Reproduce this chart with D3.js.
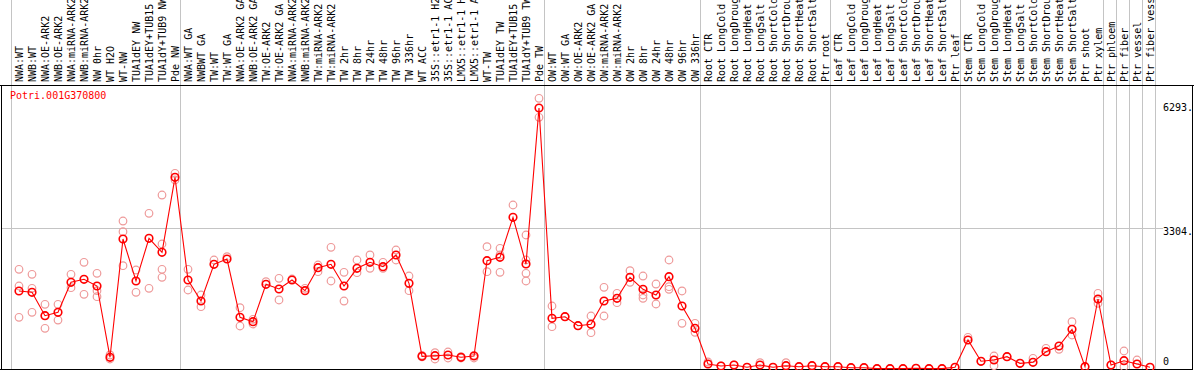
<!DOCTYPE html>
<html>
<head>
<meta charset="utf-8">
<script src="https://cdn.jsdelivr.net/npm/d3@7"></script>
<style>
  body { margin: 0; background: #fff; }
  svg { display: block; }
  text { font-family: "DejaVu Sans Mono", monospace; font-size: 10px; }
</style>
</head>
<body>
<svg id="chart" width="1194" height="370"></svg>
<script>
// THE DATA
const gene = "Potri.001G370800";

const samples = [
  "NWA:WT", "NWB:WT", "NWA:OE-ARK2", "NWB:OE-ARK2", "NWA:miRNA-ARK2", "NWB:miRNA-ARK2",
  "NW 0hr", "WT H2O", "WT-NW", "TUA1dEY NW", "TUA1dEY+TUB15", "TUA1dY+TUB9 NW", "Pde NW",
  "NWA:WT GA", "NWBWT GA", "TW:WT", "TW:WT GA", "NWA:OE-ARK2 GA", "NWB:OE-ARK2 GA",
  "TW:OE-ARK2", "TW:OE-ARK2 GA", "NWA:miRNA-ARK2", "NWB:miRNA-ARK2", "TW:miRNA-ARK2",
  "TW:miRNA-ARK2", "TW 2hr", "TW 8hr", "TW 24hr", "TW 48hr", "TW 96hr", "TW 336hr",
  "WT ACC", "35S::etr1-1 H2O", "35S::etr1-1 ACC", "LMX5::etr1-1 H2O", "LMX5::etr1-1 ACC",
  "WT-TW", "TUA1dEY TW", "TUA1dEY+TUB15", "TUA1dY+TUB9 TW", "Pde TW",
  "OW:WT", "OW:WT GA", "OW:OE-ARK2", "OW:OE-ARK2 GA", "OW:miRNA-ARK2", "OW:miRNA-ARK2",
  "OW 2hr", "OW 8hr", "OW 24hr", "OW 48hr", "OW 96hr", "OW 336hr",
  "Root CTR", "Root LongCold", "Root LongDrought", "Root LongHeat", "Root LongSalt",
  "Root ShortCold", "Root ShortDrought", "Root ShortHeat", "Root ShortSalt", "Ptr root",
  "Leaf CTR", "Leaf LongCold", "Leaf LongDrought", "Leaf LongHeat", "Leaf LongSalt",
  "Leaf ShortCold", "Leaf ShortDrought", "Leaf ShortHeat", "Leaf ShortSalt", "Ptr leaf",
  "Stem CTR", "Stem LongCold", "Stem LongDrought", "Stem LongHeat", "Stem LongSalt",
  "Stem ShortCold", "Stem ShortDrought", "Stem ShortHeat", "Stem ShortSalt", "Ptr shoot",
  "Ptr xylem", "Ptr phloem", "Ptr fiber", "Ptr vessel", "Ptr fiber vessel"
];

// index of the last sample of each group (a grey line follows it)
const groupEnds = [12, 40, 52, 62, 72, 83, 84, 85, 86, 87];

// mean expression per sample
const means = [
  1881, 1849, 1285, 1367, 2090, 2163, 2001, 282, 3134, 2122, 3151, 2814, 4622,
  2146, 1639, 2524, 2652, 1246, 1140, 2042, 1929, 2146, 1888, 2442, 2524, 2001,
  2428, 2573, 2466, 2749, 2066, 306, 321, 338, 282, 313, 2611, 2693, 3658, 2532, 6293,
  1222, 1261, 1044, 1078, 1639, 1705, 2211, 1922, 1784, 2225, 1519, 981,
  121, 72, 96, 41, 96, 41, 80, 55, 80, 55,
  55, 31, 31, 8, 8, 8, 17, 8, 8, 41,
  699, 186, 217, 297, 137, 162, 417, 555, 957, 55,
  1688, 96, 200, 121, 41
];

// replicate values per sample
const replicates = [
  [2404, 2001, 1246], [2283, 1946, 1367], [1560, 981, 1285], [1560, 1181],
  [2283, 1960], [2573, 1801], [2307, 1888, 1743], [338, 241],
  [3568, 3310, 2491], [2387, 1849], [3754, 1946], [4195, 3014, 2404, 2211],
  [4718, 4557],
  [2404, 1905], [1784, 1502], [2628], [2708], [1478, 1037], [1198, 1085],
  [2105], [2187, 1664], [2170], [1946], [2507, 2346], [2934, 2122],
  [2331, 1639], [2628, 2322], [2749, 2428], [2573, 2428], [2869, 2628],
  [2242, 1888], [330, 290], [393, 241], [410, 265], [300, 265], [265, 330],
  [2949, 2346], [2910, 2331, 2749], [3954], [3231, 2628, 2307, 2122],
  [6527, 6069],
  [1519, 1020], [1261], [1044], [1278, 875], [1970, 1278], [1825, 1598],
  [2370, 2090], [2242, 1784, 1705], [2049, 1567], [2628, 1984, 1922],
  [1881, 1102], [1102, 885],
  [169], [72], [96], [41], [152], [41], [152], [55], [80], [55],
  [55], [31], [31], [8], [8], [8], [17], [8], [8], [41],
  [764], [186], [313, 80], [297], [137], [258], [499], [475], [1140, 820], [55],
  [1825, 1584], [96], [434, 55], [217], [41]
];

const yTicks = [0, 3304, 6293];
const yTickLabels = ["0", "3304.", "6293."];

// SETTING UP
const svg = d3.select("#chart");
const width = 1194, height = 370;
const plotTop = 85, plotBottom = 369, plotRight = 1192;

const x = d3.scalePoint()
  .domain(d3.range(samples.length))
  .range([19, 1150]);

const y = d3.scaleLinear()
  .domain([0, 6293])
  .range([plotBottom, 108]);

// grey group lines, run through the label area too
const gridX = [x(0) - 8.5].concat(groupEnds.map(i => x(i) + 5));
svg.append("g")
  .selectAll("line")
  .data(gridX)
  .join("line")
    .attr("x1", d => Math.round(d) + 0.5)
    .attr("x2", d => Math.round(d) + 0.5)
    .attr("y1", 0)
    .attr("y2", plotBottom)
    .attr("stroke", "#c4c4c4");

// horizontal grid at the middle tick
svg.append("g")
  .selectAll("line")
  .data(yTicks.filter(d => d > 0 && d < 6293))
  .join("line")
    .attr("x1", 1)
    .attr("x2", 1163)
    .attr("y1", d => Math.round(y(d) - 4) + 0.5)
    .attr("y2", d => Math.round(y(d) - 4) + 0.5)
    .attr("stroke", "#c4c4c4");

// frame
svg.append("line").attr("x1", 0).attr("x2", width).attr("y1", plotTop + 0.5).attr("y2", plotTop + 0.5).attr("stroke", "#000");
svg.append("line").attr("x1", 1.5).attr("x2", 1.5).attr("y1", plotTop).attr("y2", plotBottom + 1).attr("stroke", "#000");
svg.append("line").attr("x1", 0).attr("x2", plotRight + 1).attr("y1", plotBottom + 0.5).attr("y2", plotBottom + 0.5).attr("stroke", "#000");
svg.append("line").attr("x1", plotRight + 0.5).attr("x2", plotRight + 0.5).attr("y1", plotTop).attr("y2", plotBottom + 1).attr("stroke", "#000");

// sample labels, written upward
const xAxis = svg.append("g")
  .attr("transform", "translate(0,82)")
  .call(d3.axisTop(x).tickSize(0).tickFormat(i => samples[i]));
xAxis.select(".domain").remove();
xAxis.selectAll("text")
  .attr("transform", "rotate(-90)")
  .attr("x", 0)
  .attr("y", 0)
  .attr("dy", "0.35em")
  .attr("text-anchor", "start")
  .attr("fill", "#000")
  .style("font-family", "DejaVu Sans Mono, monospace")
  .style("font-size", "10px");

// value labels on the right
const yAxis = svg.append("g")
  .attr("transform", "translate(1163,0)")
  .call(d3.axisRight(y).tickValues(yTicks).tickSize(0).tickPadding(0)
    .tickFormat((d, i) => yTickLabels[i]));
yAxis.select(".domain").remove();
yAxis.selectAll(".tick")
  .attr("transform", d => `translate(0,${Math.min(y(d), plotBottom - 7)})`);
yAxis.selectAll("text")
  .attr("fill", "#000")
  .style("font-family", "DejaVu Sans Mono, monospace")
  .style("font-size", "10px");

// gene name
svg.append("text")
  .attr("x", 10)
  .attr("y", 98.5)
  .attr("fill", "#ff0000")
  .text(gene);

// replicates
const repPoints = replicates.flatMap((vals, i) => vals.map(v => ({ i, v })));
svg.append("g")
  .selectAll("circle")
  .data(repPoints)
  .join("circle")
    .attr("cx", d => x(d.i))
    .attr("cy", d => y(d.v))
    .attr("r", 3.8)
    .attr("fill", "none")
    .attr("stroke", "#ee9a9a")
    .attr("stroke-width", 1.2);

// mean line
svg.append("path")
  .datum(means)
  .attr("d", d3.line().x((d, i) => x(i)).y(d => y(d)))
  .attr("fill", "none")
  .attr("stroke", "#ff0000")
  .attr("stroke-width", 1.1);

// mean markers
svg.append("g")
  .selectAll("circle")
  .data(means)
  .join("circle")
    .attr("cx", (d, i) => x(i))
    .attr("cy", d => y(d))
    .attr("r", 3.8)
    .attr("fill", "none")
    .attr("stroke", "#ff0000")
    .attr("stroke-width", 1.6);
</script>
</body>
</html>
